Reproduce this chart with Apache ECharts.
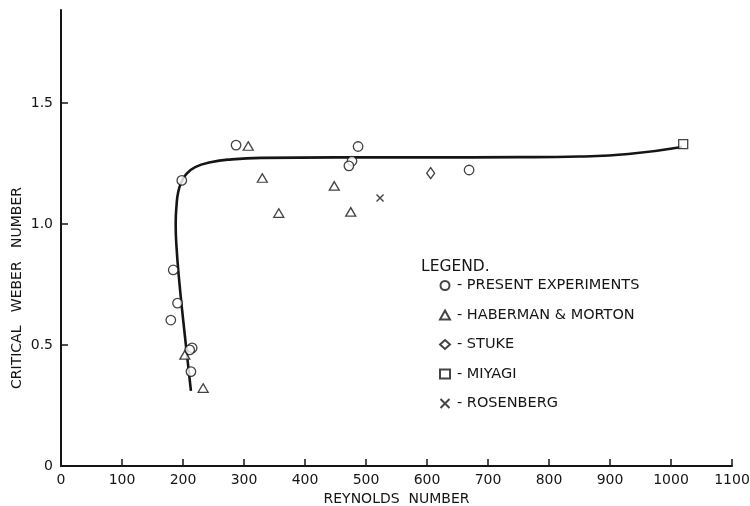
<!DOCTYPE html>
<html>
<head>
<meta charset="utf-8">
<script src="https://cdn.jsdelivr.net/npm/echarts@6/dist/echarts.min.js"></script>
<style>html,body{margin:0;padding:0;background:#fff}#c{width:750px;height:506px}</style>
</head>
<body>
<div id="c"></div>
<script>
// ---- data ----
const xTicks = [0,100,200,300,400,500,600,700,800,900,1000,1100];
const yTickValues = [0, 0.5, 1.0, 1.5];
const yTickLabels = ['0', '0.5', '1.0', '1.5'];

const presentExperiments = [[184,0.81],[191,0.673],[180,0.603],[215,0.488],[211,0.48],[213,0.39],[198,1.18],[287,1.326],[487,1.32],[477,1.26],[472,1.24],[669,1.223]];
const habermanMorton = [[307,1.322],[330,1.19],[357,1.045],[448,1.157],[475,1.05],[203,0.459],[233,0.322]];
const stuke = [[606,1.21]];
const miyagi = [[1020,1.33]];
const rosenberg = [[523,1.107]];
const fittedCurve = [[213,0.31],[206.5,0.46],[200,0.61],[194,0.76],[189.5,0.9],[188,1.0],[189.5,1.08],[192,1.13],[197,1.17],[205,1.205],[220,1.235],[245,1.255],[280,1.267],[330,1.273],[450,1.275],[600,1.275],[750,1.276],[850,1.279],[930,1.289],[1018,1.318]];

const seriesNames = ['PRESENT EXPERIMENTS','HABERMAN & MORTON','STUKE','MIYAGI','ROSENBERG'];

const ink = '#151515';
const FONT = 'DejaVu Sans';
const markerStyle = {color:'#fff', borderColor: ink, borderWidth: 1.3};

const chart = echarts.init(document.getElementById('c'));
chart.setOption({
  backgroundColor: '#fff',
  animation: false,
  title: {
    text: 'LEGEND.', left: 416, top: 254,
    textStyle: {fontFamily: FONT, fontSize: 15.5, fontWeight: 'normal', color: ink}
  },
  legend: {
    data: seriesNames,
    orient: 'vertical',
    left: 433, top: 273,
    itemWidth: 10, itemHeight: 9, itemGap: 14.5,
    formatter: '- {name}',
    textStyle: {fontFamily: FONT, fontSize: 14.5, color: ink, padding: [0,0,0,2]},
    selectedMode: false
  },
  grid: {left: 61, right: 18, top: 10, bottom: 40, containLabel: false, outerBoundsMode: 'none'},
  xAxis: {
    type: 'value', min: 0, max: 1100, interval: 100,
    name: 'REYNOLDS  NUMBER', nameLocation: 'middle', nameGap: 26,
    nameTextStyle: {fontFamily: FONT, fontSize: 14, color: ink},
    axisLine: {show: true, lineStyle: {color: ink, width: 2}},
    axisTick: {show: true, inside: true, length: 7, lineStyle: {color: ink, width: 1.5}},
    axisLabel: {fontFamily: FONT, fontSize: 14, color: ink, margin: 7, formatter: v => String(v)},
    splitLine: {show: false}
  },
  yAxis: {
    type: 'value', min: 0, max: 1.884, interval: 0.5,
    axisLine: {show: true, lineStyle: {color: ink, width: 2}},
    axisTick: {show: true, inside: true, length: 7, lineStyle: {color: ink, width: 1.5}, customValues: yTickValues},
    axisLabel: {fontFamily: FONT, fontSize: 14, color: ink, margin: 8, customValues: yTickValues,
      formatter: v => { const i = yTickValues.findIndex(t => Math.abs(t - v) < 1e-6); return i >= 0 ? yTickLabels[i] : ''; }},
    splitLine: {show: false}
  },
  graphic: [{
    type: 'text', x: 17, y: 288, rotation: Math.PI/2,
    style: {text: 'CRITICAL   WEBER   NUMBER', fontFamily: FONT, fontSize: 14, fill: ink, align: 'center', verticalAlign: 'middle'}
  }],
  series: [
    {type: 'line', data: fittedCurve, smooth: 0.5, showSymbol: false, symbol: 'none',
     lineStyle: {color: ink, width: 2.6}, z: 1, silent: true},
    {name: seriesNames[0], type: 'scatter', data: presentExperiments, symbol: 'circle', symbolSize: 9.5, itemStyle: markerStyle, z: 3},
    {name: seriesNames[1], type: 'scatter', data: habermanMorton, symbol: 'triangle', symbolSize: [10, 8.5], itemStyle: markerStyle, z: 3},
    {name: seriesNames[2], type: 'scatter', data: stuke, symbol: 'diamond', symbolSize: [8, 11], itemStyle: markerStyle, z: 3},
    {name: seriesNames[3], type: 'scatter', data: miyagi, symbol: 'rect', symbolSize: 9, itemStyle: markerStyle, z: 3},
    {name: seriesNames[4], type: 'scatter', data: rosenberg, symbol: 'path://M0,0L10,10M10,0L0,10', symbolSize: 7,
     itemStyle: {color: 'none', borderColor: ink, borderWidth: 1.4}, z: 3}
  ]
});
</script>
</body>
</html>
